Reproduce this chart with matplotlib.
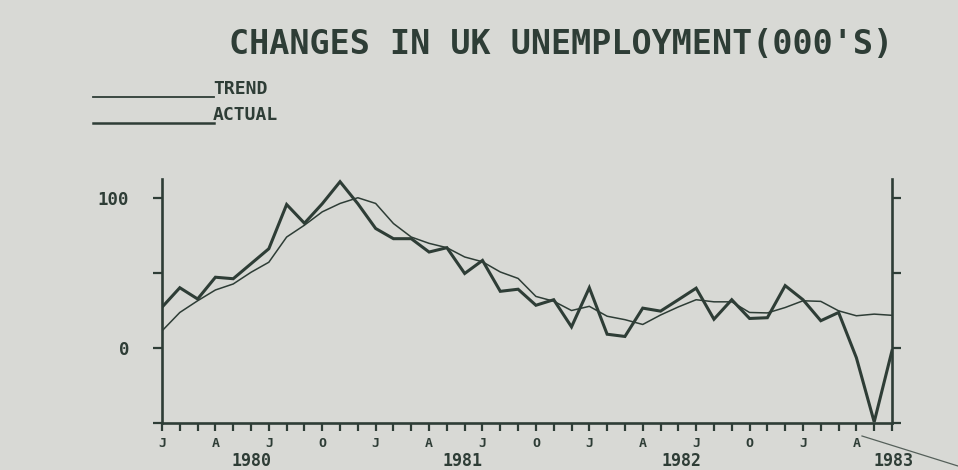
import matplotlib
matplotlib.use("Agg")
import matplotlib.pyplot as plt
from matplotlib.lines import Line2D
from matplotlib.transforms import blended_transform_factory

# ---- data (monthly) ----
actual = [27, 40, 32.5, 47, 46, 56, 66, 95.5, 83, 96, 110.7, 96, 79.5, 72.7,
          72.7, 63.8, 66.7, 49.5, 58.2, 37.6, 39, 28.3, 32, 13.9, 40, 9, 7.5,
          26.4, 24.4, 32, 39.7, 19, 32, 19.5, 20, 41.4, 32, 18, 23.5, -6.7,
          -49.5, -2]
trend = [11.2, 23.5, 31.3, 38.5, 42.5, 50.3, 57, 73.8, 81.7, 90.6, 96.2, 100,
         96.2, 82.8, 73.8, 69.6, 66.7, 60.5, 57.3, 50.5, 46.2, 34.2, 31, 24.8,
         27.6, 21, 18.7, 15.5, 21.8, 27.2, 32, 30.6, 30.6, 23.5, 23.2, 26.8,
         31.3, 30.9, 24.6, 21.3, 22.4, 21.6]
quarter_labels = ["J", "A", "J", "O"]
year_labels = ["1980", "1981", "1982", "1983"]
year_pos = [5.0, 16.9, 29.2, 41.1]
ytick_vals = [-50, 0, 50, 100]
ytick_text = ["", "0", "", "100"]
title = "CHANGES IN UK UNEMPLOYMENT(000'S)"
legend_names = ["TREND", "ACTUAL"]

BG = "#d8d9d5"
INK = "#2e3d36"
FONT = "DejaVu Sans Mono"

W, H = 958, 470
fig = plt.figure(figsize=(W / 100, H / 100), dpi=100, facecolor=BG)

ax = fig.add_axes([162 / W, (H - 422.7) / H, (892 - 162) / W, (422.7 - 179) / H])
ax.set_facecolor(BG)
months = list(range(len(actual)))

ax.plot(months, trend, color=INK, lw=1.1, solid_joinstyle="round")
ax.plot(months, actual, color=INK, lw=2.2, solid_joinstyle="miter")

ax.set_xlim(0, len(actual) - 1)
ax.set_ylim(-50, 112.5)

for s in ["left", "right", "bottom"]:
    ax.spines[s].set_color(INK)
    ax.spines[s].set_linewidth(1.9)
ax.spines["top"].set_visible(False)

ax.set_yticks(ytick_vals)
ax.set_yticklabels(ytick_text, fontfamily=FONT, fontweight="bold", fontsize=12.5, color=INK)
ax.tick_params(axis="y", which="major", direction="out", length=6.5, width=1.6,
               colors=INK, right=True, labelright=False, pad=17)

ax.set_xticks(months)
ax.set_xticklabels([quarter_labels[(m // 3) % 4] if m % 3 == 0 else "" for m in months],
                   fontfamily=FONT, fontweight="bold", fontsize=9.5, color=INK)
ax.tick_params(axis="x", which="major", direction="out", length=5.5, width=1.6,
               colors=INK, pad=5)

trans = blended_transform_factory(ax.transData, ax.transAxes)
for lab, xp in zip(year_labels, year_pos):
    ax.text(xp, -0.157, lab, transform=trans, ha="center", va="center",
            fontfamily=FONT, fontweight="bold", fontsize=12, color=INK, clip_on=False)

# title
fig.text(561 / W, 1 - 44 / H, title, ha="center", va="center", fontfamily=FONT,
         fontweight="bold", fontsize=24, color=INK)

# legend (line followed by label sitting on the line)
for i, name in enumerate(legend_names):
    yy = 1 - (96.7 + 26.6 * i) / H
    fig.add_artist(Line2D([93 / W, 214 / W], [yy, yy], color=INK,
                          lw=1.3 if i == 0 else 1.8, transform=fig.transFigure))
    fig.text(213 / W, yy - 1 / H, name, ha="left", va="bottom", fontfamily=FONT,
             fontweight="bold", fontsize=13, color=INK)

# pen stroke on the printout near bottom right
fig.add_artist(Line2D([862 / W, 958 / W], [1 - 436 / H, 1 - 466 / H], color="#55605a",
                      lw=0.9, transform=fig.transFigure))

fig.savefig("out.png", dpi=100, facecolor=BG)
